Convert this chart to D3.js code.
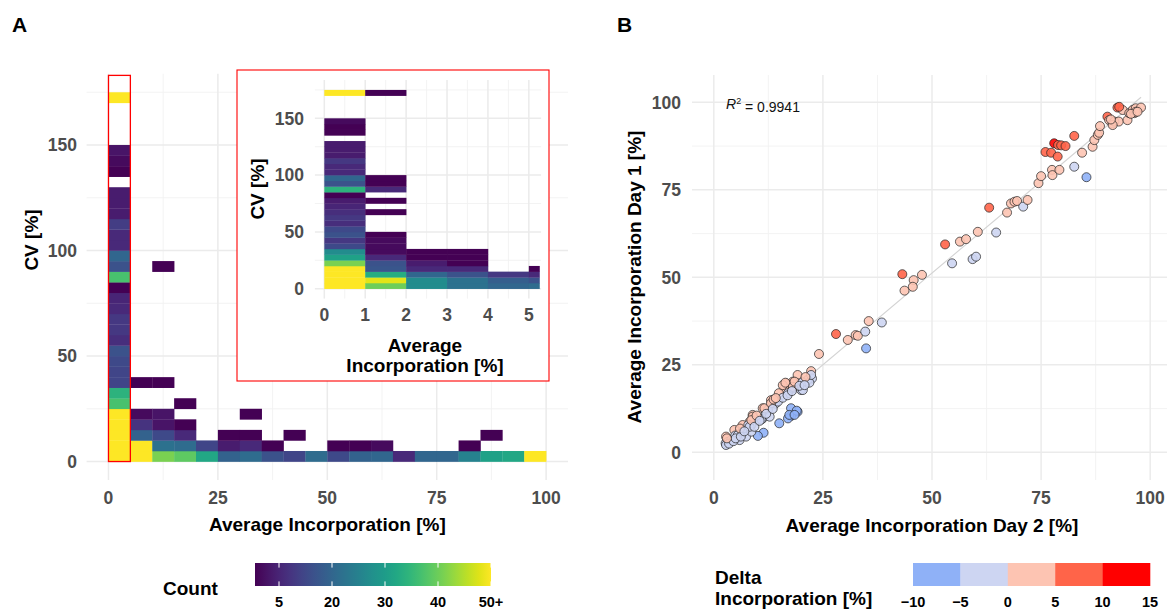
<!DOCTYPE html>
<html><head><meta charset="utf-8">
<script src="https://cdn.jsdelivr.net/npm/d3@7"></script>
<style>body{margin:0;background:#fff}svg{display:block}text{font-family:"Liberation Sans",Arial,Helvetica,sans-serif}</style>
</head><body><svg id="c" width="1167" height="612"></svg>
<script>
// ---------- DATA ----------
// Panel A main heatmap: bins of 5 (Average Incorporation) x 5 (CV)
const mainX0 = [0,0,0,0,0,0,0,0,0,0,0,0,0,0,0,0,0,0,0,0,0,0,0,0,0,0,0,0,0,0,
  5,10,15,20,25,30,35,40,45,50,55,60,65,70,75,80,85,90,95,
  5,10,15,20,25,30,35,50,55,60,80,
  5,10,15,25,30,40,85,
  5,10,15, 5,10,30, 15, 5,10, 10];
const mainY0 = [0,5,10,15,20,25,30,35,40,45,50,55,60,65,70,75,80,85,90,95,100,105,110,115,120,125,135,140,145,170,
  0,0,0,0,0,0,0,0,0,0,0,0,0,0,0,0,0,0,0,
  5,5,5,5,5,5,5,5,5,5,5,
  10,10,10,10,10,10,10,
  15,15,15, 20,20,20, 25, 35,35, 90];
const mainCount = [160,120,95,80,62,37,34,12,12,13,15,7,9,9,6,5,1,37,15,20,6,6,10,4,4,4,1,2,3,55,
  60,41,39,32,19,21,15,12,21,13,19,20,6,20,20,25,31,32,52,
  58,22,21,12,4,6,1,1,1,2,1,
  19,13,6,1,1,1,1,
  8,3,1, 2,3,1, 1, 1,1, 1];

// Panel A inset heatmap: bins of 1 (Average Incorporation) x 5 (CV)
const insetX0 = [0,0,0,0,0,0,0,0,0,0,0,0,0,0,0,0,0,0,0,0,0,0,0,0,0,0,0,0,0,0,
  1,1,1,1,1,1,1,1,1,1,1,1,1,1,1,1,
  2,2,2,2,2,2,2,
  3,3,3,3,3,3,3,
  4,4,4,
  5,5,5,5];
const insetX1 = [1,1,1,1,1,1,1,1,1,1,1,1,1,1,1,1,1,1,1,1,1,1,1,1,1,1,1,1,1,1,
  2,2,2,2,2,2,2,2,2,2,2,2,2,2,2,2,
  3,3,3,3,3,3,3,
  4,4,4,4,4,4,4,
  5,5,5,
  5.26,5.26,5.26,5.26];
const insetY0 = [0,5,10,15,20,25,30,35,40,45,50,55,60,65,70,75,80,85,90,95,100,105,110,115,120,125,135,140,145,170,
  0,5,10,15,20,25,30,35,40,45,65,75,85,90,95,170,
  0,5,10,15,20,25,30,
  0,5,10,15,20,25,30,
  0,5,10,
  0,5,10,15];
const insetCount = [70,62,58,52,41,31,27,13,9,15,13,7,9,7,5,4,1,34,15,20,6,6,9,4,4,4,1,1,2,55,
  40,48,33,16,15,6,2,2,2,1,1,1,6,1,1,1,
  27,27,20,6,4,1,1,
  22,22,15,6,1,1,1,
  20,18,9,
  21,15,6,1];

// Count legend
const countBreaks = [1,5,20,30,40,50];
const countTickValues = [5,20,30,40,50];
const countTickLabels = ["5","20","30","40","50+"];

// Panel B scatter: Day 2 (x) vs Day 1 (y)
const day2 = [43.2,45.8,47.7,45.6,43.7,53.0,54.6,56.4,57.8,59.3,60.1,60.5,63.1,64.7,67.2,68.1,68.9,69.5,70.9,71.9,
  74.4,75.0,77.5,77.6,79.2,76.0,77.3,78.0,78.9,79.6,80.6,78.8,82.6,82.6,84.4,85.4,86.8,87.2,88.0,88.3,
  88.5,90.2,90.6,91.4,91.8,92.8,92.5,93.7,94.8,95.2,96.0,96.4,96.7,97.9,96.7,95.6,97.1,91.4,91.0,92.9,
  28.0,24.1,30.7,32.5,33.0,34.7,35.5,38.5,34.9,22.3,22.5,21.5,19.2,20.0,19.2,18.1,16.6,16.2,18.1,14.9,
  17.0,19.2,17.7,17.7,17.0,15.0,13.1,14.1,14.7,11.2,12.4,11.2,9.7,8.9,8.2,8.6,11.4,10.1,6.6,4.7,
  2.8,2.7,3.2,2.8,4.0,4.9,5.5,5.9,6.6,7.9,7.4,8.6,8.2,8.9,8.6,9.3,10.9,11.6,12.8,13.1,
  13.7,15.8,15.8,16.4,16.9,17.3,18.1,18.5,17.9,19.0,18.5,20.3,20.4,21.9,22.3,
  3.5,4.5,5.0,6.2,3.0,6.0,7.0,9.8,10.5,12.0,13.5,14.2,19.6,21.0,20.8];
const day1 = [50.9,49.2,50.7,47.3,46.2,59.4,54.0,60.2,60.9,55.2,55.9,63.0,69.9,62.8,68.5,71.1,71.6,71.8,70.2,72.1,
  76.9,78.9,80.7,79.2,80.7,85.8,85.6,88.3,87.8,87.7,87.5,84.5,90.4,81.6,85.6,78.6,87.3,89.2,90.7,91.3,
  93.2,95.9,94.9,94.0,94.5,94.5,98.5,97.8,94.9,96.9,97.8,96.9,98.3,98.5,97.3,96.7,97.3,93.5,95.1,98.7,
  33.8,28.1,32.1,33.5,33.3,34.5,37.5,37.1,29.7,23.2,21.1,20.7,22.1,17.8,19.7,20.2,19.7,18.3,18.3,16.9,
  16.9,11.6,12.6,10.4,9.7,8.3,14.9,13.9,14.5,12.6,12.1,9.7,9.2,10.7,8.7,7.8,5.6,4.7,7.8,6.4,
  4.5,2.6,3.0,2.1,3.5,4.8,4.9,3.5,5.9,7.8,4.5,5.9,7.3,10.2,9.2,7.3,9.4,12.6,10.2,14.0,
  15.1,15.6,19.2,19.9,16.3,10.7,18.7,20.2,17.5,11.9,10.7,20.0,17.8,19.9,22.1,
  2.5,3.2,4.0,4.5,4.0,6.8,6.0,10.5,9.0,11.0,12.4,15.5,19.0,21.5,19.2];
const r2Label = "0.9941";

// Delta legend
const deltaBreaks = [-10,-5,0,5,10,15];
const deltaColors = ["#8fb1f7","#cdd5f2","#fdc4b2","#ff6449","#ff0000"];
const deltaTickLabels = ["\u221210","\u22125","0","5","10","15"];

// Axis ticks
const xTicksA = [0,25,50,75,100], yTicksA = [0,50,100,150];
const xTicksInset = [0,1,2,3,4,5], yTicksInset = [0,50,100,150];
const xTicksB = [0,25,50,75,100], yTicksB = [0,25,50,75,100];

// ---------- DRAW ----------
const svg = d3.select("#c");
const GRID = "#ebebeb", GRIDMIN = "#f2f2f2", TICKC = "#4d4d4d";

function grid(g, xs, ys, xMaj, xMin, yMaj, yMin){
  const [x0,x1] = xs.range(), [y0,y1] = ys.range();
  g.selectAll(null).data(xMin).join("line").attr("x1",d=>xs(d)).attr("x2",d=>xs(d)).attr("y1",y0).attr("y2",y1).attr("stroke",GRIDMIN).attr("stroke-width",0.9);
  g.selectAll(null).data(yMin).join("line").attr("y1",d=>ys(d)).attr("y2",d=>ys(d)).attr("x1",x0).attr("x2",x1).attr("stroke",GRIDMIN).attr("stroke-width",0.9);
  g.selectAll(null).data(xMaj).join("line").attr("x1",d=>xs(d)).attr("x2",d=>xs(d)).attr("y1",y0).attr("y2",y1).attr("stroke",GRID).attr("stroke-width",1.5);
  g.selectAll(null).data(yMaj).join("line").attr("y1",d=>ys(d)).attr("y2",d=>ys(d)).attr("x1",x0).attr("x2",x1).attr("stroke",GRID).attr("stroke-width",1.5);
}
function mids(t){ const m=[]; for(let i=0;i<t.length-1;i++) m.push((t[i]+t[i+1])/2); return m; }

// count colour: position along legend -> viridis
const legX = d3.scaleLinear().domain(countBreaks).range([255,279,332,385,438,491]).clamp(true);
const countColor = c => d3.interpolateViridis((legX(c)-255)/236);

// ===== Panel A main =====
const xA = d3.scaleLinear().domain([-5,105]).range([86.6,568]);
const yA = d3.scaleLinear().domain([-8.75,183.75]).range([480,73.8]);
const gA = svg.append("g");
grid(gA, xA, yA, xTicksA, mids(xTicksA), yTicksA, [25,75,125,175]);
gA.selectAll("rect.t").data(mainCount.map((c,i)=>({x:mainX0[i],y:mainY0[i],c}))).join("rect")
  .attr("x",d=>xA(d.x)).attr("y",d=>yA(d.y+5)).attr("width",d=>xA(d.x+5)-xA(d.x)+0.3).attr("height",d=>yA(d.y)-yA(d.y+5)+0.3)
  .attr("fill",d=>countColor(d.c));
gA.append("rect").attr("x",xA(0)).attr("y",yA(183)).attr("width",xA(5)-xA(0)).attr("height",yA(0)-yA(183))
  .attr("fill","none").attr("stroke","#ff0000").attr("stroke-width",1.3);
gA.selectAll(null).data(yTicksA).join("text").attr("x",77).attr("y",d=>yA(d)).attr("dy","0.36em").attr("text-anchor","end")
  .attr("font-size",17.5).attr("font-weight","bold").attr("fill",TICKC).text(d=>d);
gA.selectAll(null).data(xTicksA).join("text").attr("x",d=>xA(d)).attr("y",498).attr("dy","0.36em").attr("text-anchor","middle")
  .attr("font-size",17.5).attr("font-weight","bold").attr("fill",TICKC).text(d=>d);
gA.append("text").attr("x",(86.6+568)/2).attr("y",524).attr("dy","0.36em").attr("text-anchor","middle").attr("font-size",19).attr("font-weight","bold").text("Average Incorporation [%]");
gA.append("text").attr("transform","translate(31,240) rotate(-90)").attr("dy","0.36em").attr("text-anchor","middle").attr("font-size",19).attr("font-weight","bold").text("CV [%]");

// ===== Inset =====
const gI = svg.append("g");
gI.append("rect").attr("x",237).attr("y",70).attr("width",312).attr("height",311).attr("fill","#fff").attr("stroke","#ff0000").attr("stroke-width",1.1);
const xI = d3.scaleLinear().domain([-0.23,5.3]).range([314.9,541.1]);
const yI = d3.scaleLinear().domain([-8.75,183.75]).range([298.6,80]);
grid(gI, xI, yI, xTicksInset, mids(xTicksInset), yTicksInset, [25,75,125,175]);
gI.selectAll("rect.t").data(insetCount.map((c,i)=>({x0:insetX0[i],x1:insetX1[i],y:insetY0[i],c}))).join("rect")
  .attr("x",d=>xI(d.x0)).attr("y",d=>yI(d.y+5)).attr("width",d=>xI(d.x1)-xI(d.x0)+0.3).attr("height",d=>yI(d.y)-yI(d.y+5)+0.3)
  .attr("fill",d=>countColor(d.c));
gI.selectAll(null).data(yTicksInset).join("text").attr("x",304).attr("y",d=>yI(d)).attr("dy","0.36em").attr("text-anchor","end")
  .attr("font-size",17.5).attr("font-weight","bold").attr("fill",TICKC).text(d=>d);
gI.selectAll(null).data(xTicksInset).join("text").attr("x",d=>xI(d)).attr("y",315).attr("dy","0.36em").attr("text-anchor","middle")
  .attr("font-size",17.5).attr("font-weight","bold").attr("fill",TICKC).text(d=>d);
gI.append("text").attr("x",425).attr("y",345).attr("dy","0.36em").attr("text-anchor","middle").attr("font-size",19).attr("font-weight","bold").text("Average");
gI.append("text").attr("x",425).attr("y",365).attr("dy","0.36em").attr("text-anchor","middle").attr("font-size",19).attr("font-weight","bold").text("Incorporation [%]");
gI.append("text").attr("transform","translate(257,189) rotate(-90)").attr("dy","0.36em").attr("text-anchor","middle").attr("font-size",19).attr("font-weight","bold").text("CV [%]");

// ===== Panel B =====
const xB = d3.scaleLinear().domain([-5,105]).range([692,1172]);
const yB = d3.scaleLinear().domain([-7.9,107.8]).range([480,75]);
const gB = svg.append("g");
grid(gB, xB, yB, xTicksB, mids(xTicksB), yTicksB, mids(yTicksB));
// regression
const pts = day2.map((x,i)=>({x, y:day1[i]}));
const mx = d3.mean(pts,d=>d.x), my = d3.mean(pts,d=>d.y);
const slope = d3.sum(pts,d=>(d.x-mx)*(d.y-my))/d3.sum(pts,d=>(d.x-mx)**2);
const icpt = my - slope*mx;
const [lx0,lx1] = d3.extent(day2);
gB.append("line").attr("x1",xB(lx0)).attr("y1",yB(icpt+slope*lx0)).attr("x2",xB(lx1)).attr("y2",yB(icpt+slope*lx1))
  .attr("stroke","#d3d3d3").attr("stroke-width",1.1);
const deltaColor = d3.scaleThreshold().domain(deltaBreaks.slice(1,-1)).range(deltaColors);
gB.selectAll("circle").data(pts).join("circle").attr("cx",d=>xB(d.x)).attr("cy",d=>yB(d.y)).attr("r",4.5)
  .attr("fill",d=>deltaColor(d.y-d.x)).attr("fill-opacity",0.9).attr("stroke","#222").attr("stroke-width",0.7);
const r2 = gB.append("text").attr("x",726).attr("y",104).attr("dy","0.36em").attr("font-size",14).attr("fill","#111");
r2.append("tspan").attr("font-style","italic").text("R");
r2.append("tspan").attr("font-size",9).attr("dy","-0.55em").text("2");
r2.append("tspan").attr("dy","0.55em").text(" = " + r2Label);
gB.selectAll(null).data(yTicksB).join("text").attr("x",681).attr("y",d=>yB(d)).attr("dy","0.36em").attr("text-anchor","end")
  .attr("font-size",17.5).attr("font-weight","bold").attr("fill",TICKC).text(d=>d);
gB.selectAll(null).data(xTicksB).join("text").attr("x",d=>xB(d)).attr("y",498).attr("dy","0.36em").attr("text-anchor","middle")
  .attr("font-size",17.5).attr("font-weight","bold").attr("fill",TICKC).text(d=>d);
gB.append("text").attr("x",932).attr("y",525).attr("dy","0.36em").attr("text-anchor","middle").attr("font-size",19).attr("font-weight","bold").text("Average Incorporation Day 2 [%]");
gB.append("text").attr("transform","translate(634,277) rotate(-90)").attr("dy","0.36em").attr("text-anchor","middle").attr("font-size",19).attr("font-weight","bold").text("Average Incorporation Day 1 [%]");

// ===== Panel tags =====
svg.append("text").attr("x",12).attr("y",32).attr("font-size",21).attr("font-weight","bold").text("A");
svg.append("text").attr("x",617).attr("y",32).attr("font-size",21).attr("font-weight","bold").text("B");

// ===== Legend A =====
const defs = svg.append("defs");
const grad = defs.append("linearGradient").attr("id","vir").attr("x1","0%").attr("x2","100%");
d3.range(0,1.0001,0.05).forEach(t=>grad.append("stop").attr("offset",(t*100)+"%").attr("stop-color",d3.interpolateViridis(t)));
const gL = svg.append("g");
gL.append("text").attr("x",163).attr("y",588).attr("dy","0.36em").attr("font-size",19).attr("font-weight","bold").text("Count");
gL.append("rect").attr("x",255).attr("y",563).attr("width",236).attr("height",23).attr("fill","url(#vir)");
countTickValues.forEach(v=>{
  gL.append("line").attr("x1",legX(v)).attr("x2",legX(v)).attr("y1",563).attr("y2",567.6).attr("stroke","#fff").attr("stroke-width",1);
  gL.append("line").attr("x1",legX(v)).attr("x2",legX(v)).attr("y1",581.4).attr("y2",586).attr("stroke","#fff").attr("stroke-width",1);
});
gL.selectAll(null).data(countTickValues).join("text").attr("x",d=>legX(d)).attr("y",602).attr("dy","0.36em").attr("text-anchor","middle")
  .attr("font-size",14.5).attr("font-weight","bold").text((d,i)=>countTickLabels[i]);

// ===== Legend B =====
const legD = d3.scaleLinear().domain([-10,15]).range([913,1150]);
const gD = svg.append("g");
gD.append("text").attr("x",715).attr("y",577).attr("dy","0.36em").attr("font-size",19).attr("font-weight","bold").text("Delta");
gD.append("text").attr("x",715).attr("y",598).attr("dy","0.36em").attr("font-size",19).attr("font-weight","bold").text("Incorporation [%]");
gD.selectAll("rect").data(deltaColors).join("rect").attr("x",(d,i)=>legD(deltaBreaks[i])).attr("y",563)
  .attr("width",(d,i)=>legD(deltaBreaks[i+1])-legD(deltaBreaks[i])+0.3).attr("height",23).attr("fill",d=>d);
gD.selectAll(null).data(deltaBreaks).join("text").attr("x",d=>legD(d)).attr("y",602).attr("dy","0.36em").attr("text-anchor","middle")
  .attr("font-size",14.5).attr("font-weight","bold").text((d,i)=>deltaTickLabels[i]);
</script></body></html>
